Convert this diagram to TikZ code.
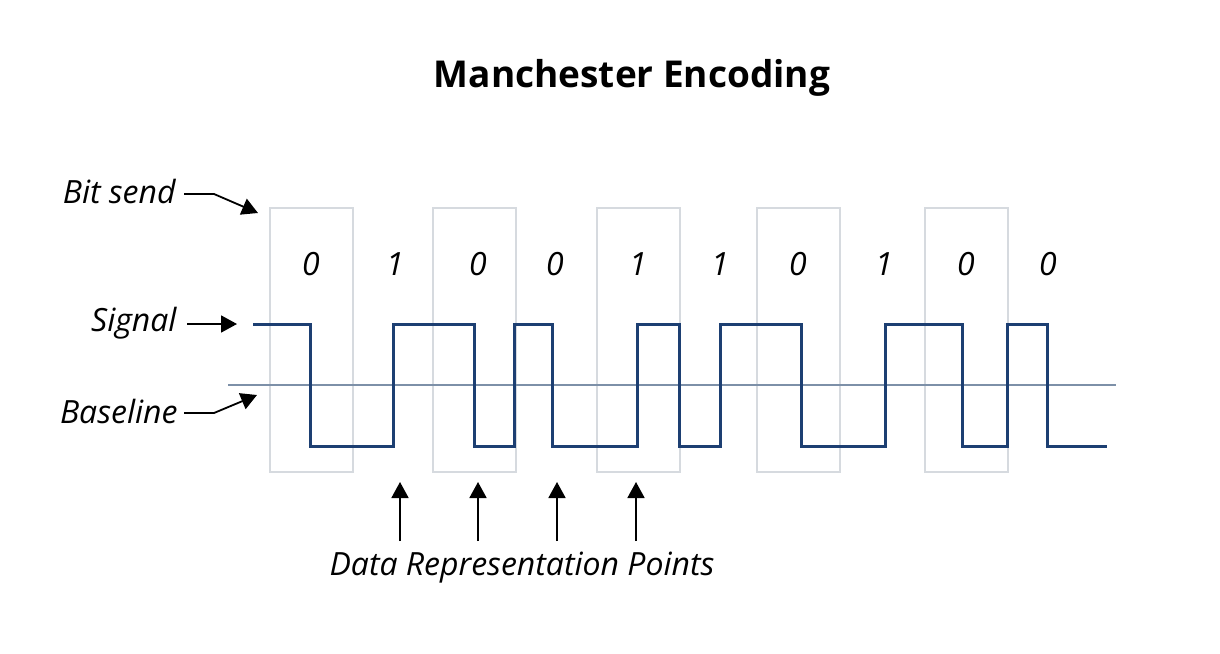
\documentclass[tikz,border=0pt]{standalone}
\usepackage{fontspec}
\setmainfont{Open Sans}
\usetikzlibrary{positioning,calc,arrows.meta}
\definecolor{wave}{HTML}{1D3F72}
\definecolor{zeroline}{HTML}{7D90A8}
\definecolor{frame}{HTML}{D6DADF}
\begin{document}
\begin{tikzpicture}[x=0.5pt,y=-0.5pt,every node/.style={font=\itshape\fontsize{16}{19}\selectfont,inner sep=0pt},
  pointer/.style={line width=0.9pt,-{Triangle[length=8pt,width=8.5pt]}},
  bitframe/.style={draw=frame,line width=1pt}]
\useasboundingbox (0,0) rectangle (1220,653);
\node[font=\bfseries\fontsize{18.5}{22}\selectfont] (title) at (632,78) {Manchester Encoding};
% bit frames
\foreach \x in {270,433,597,757,925}
  \draw[bitframe] (\x,208) rectangle ++(83,264);
% bit values
\foreach \x/\b [count=\i] in {311/0,395/1,478/0,555/0,638/1,720/1,798/0,884/1,966/0,1048/0}
  \node (bit\i) at (\x,264) {\b};
% baseline and signal
\draw[zeroline,line width=1pt] (228,385) -- (1116,385);
\draw[wave,line width=1.5pt] (253,324) -| (310,446) -| (393,324) -| (474,446) -| (514,324) -| (552,446)
  -| (637,324) -| (679,446) -| (720,324) -| (801,446) -| (885,324) -| (962,446) -| (1007,324) -| (1047,446) -- (1107,446);
% labels on the left
\node[anchor=east] (bitsend) at (176,191) {Bit send};
\node[anchor=east] (signal) at (177,323) {Signal};
\node[anchor=east] (baseline) at (178,411) {Baseline};
\coordinate (bittip) at (258,213);
\coordinate (sigtip) at (237,324);
\coordinate (basetip) at (257,395);
\draw[pointer] ([xshift=4pt,yshift=-1.5pt]bitsend.east) -- ++(30,0) -- (bittip);
\draw[pointer] ([xshift=5pt,yshift=-0.5pt]signal.east) -- (sigtip);
\draw[pointer] ([xshift=3pt,yshift=-1pt]baseline.east) -- ++(30,0) -- (basetip);
% data representation points
\node (points) at (522,568) {Data Representation Points};
\foreach \x [count=\i] in {400,478,557,636} {
  \coordinate (foot\i) at (\x,541);
  \coordinate (head\i) at (\x,482);
  \draw[pointer] (foot\i) -- (head\i);
}
\end{tikzpicture}
\end{document}
